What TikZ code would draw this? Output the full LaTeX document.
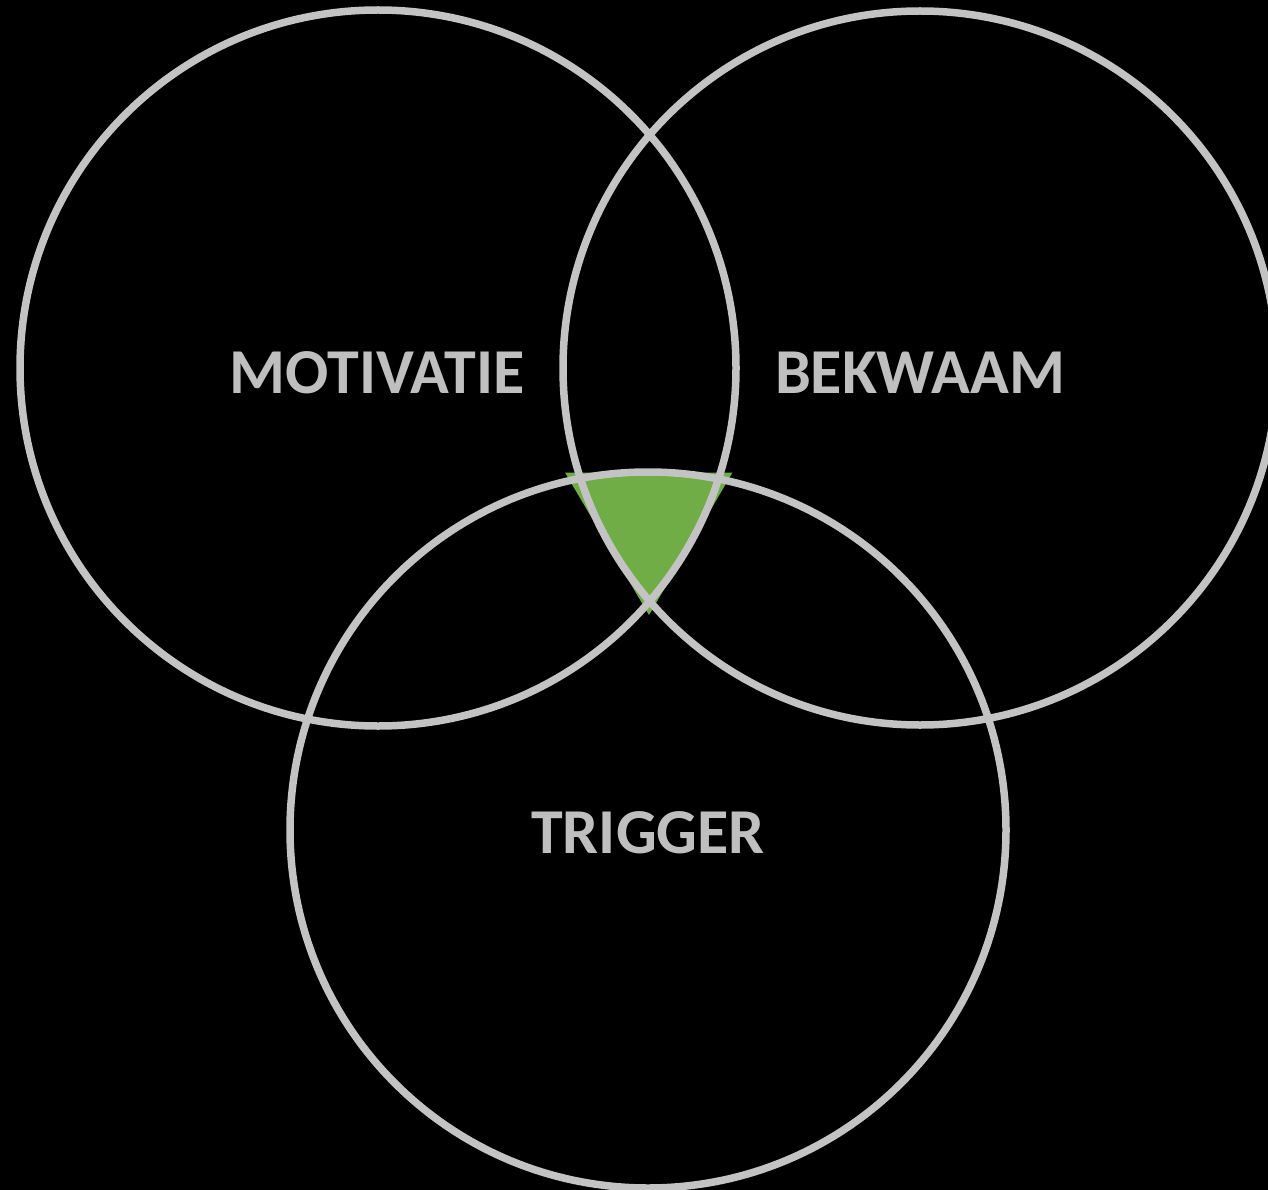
\documentclass[tikz,border=0pt]{standalone}
\usepackage{fontspec}
\setmainfont{Carlito}
\definecolor{ring}{HTML}{C3C3C3}
\definecolor{txt}{HTML}{BFBFBF}
\definecolor{leaf}{HTML}{70AD47}
\begin{document}
\begin{tikzpicture}[x=1pt,y=-1pt,
  ringstyle/.style={draw=ring,line width=7.5pt},
  labelstyle/.style={text=txt,font=\fontsize{64}{72}\selectfont\bfseries,inner sep=0pt}]
\fill[black] (0,0) rectangle (1268,1190);
\useasboundingbox (0,0) rectangle (1268,1190);
\begin{scope}
\clip (0,0) rectangle (1268,1190);
\coordinate (ta) at (565,472.5);
\coordinate (tb) at (732.5,472.5);
\coordinate (tc) at (649,615);
\fill[leaf] (ta) -- (tb) -- (tc) -- cycle;
\draw[ringstyle] (378,368) circle (358);
\draw[ringstyle] (920,368) circle (357);
\draw[ringstyle] (648,830) circle (358);
\end{scope}
\node[labelstyle] (m) at (377,373) {MOTIVATIE};
\node[labelstyle] (b) at (920,373) {BEKWAAM};
\node[labelstyle] (t) at (648,833) {TRIGGER};
\end{tikzpicture}
\end{document}
